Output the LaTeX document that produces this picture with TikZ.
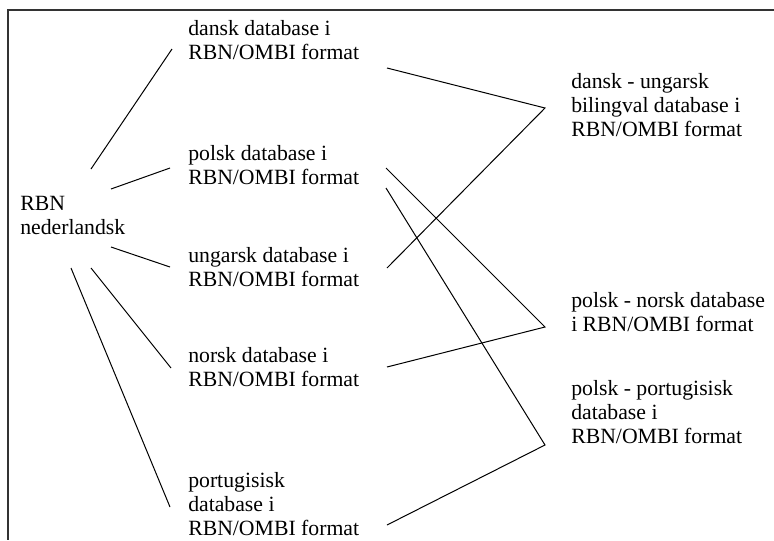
\documentclass[tikz,border=0pt]{standalone}
\usepackage{fontspec}
\setmainfont{Liberation Serif}
\begin{document}
\begin{tikzpicture}[x=0.75pt,y=-0.75pt,
  lbl/.style={anchor=base west,inner sep=0pt,align=left,font=\fontsize{16.3}{18}\selectfont},
  conn/.style={line width=0.75pt,black},
  frameline/.style={line width=1.1pt,black!80}]
\useasboundingbox (0,0) rectangle (774,540);
% frame (top and left edges)
\coordinate (fTR) at (774,10);
\coordinate (fTL) at (8,10);
\coordinate (fBL) at (8,540);
\draw[frameline] (fTR) -- (fTL) -- (fBL);
% texts (anchored at the baseline of their last line)
\node[lbl] (nl) at (20,234) {RBN\\nederlandsk};
\node[lbl] (da) at (188,59) {dansk database i\\RBN/OMBI format};
\node[lbl] (pl) at (188,184) {polsk database i\\RBN/OMBI format};
\node[lbl] (hu) at (188,286) {ungarsk database i\\RBN/OMBI format};
\node[lbl] (no) at (188,386) {norsk database i\\RBN/OMBI format};
\node[lbl] (pt) at (188,535) {portugisisk\\database i\\RBN/OMBI format};
\node[lbl] (dahu) at (571,136) {dansk - ungarsk\\bilingval database i\\RBN/OMBI format};
\node[lbl] (plno) at (571,331) {polsk - norsk database\\i RBN/OMBI format};
\node[lbl] (plpt) at (571,443) {polsk - portugisisk\\database i\\RBN/OMBI format};
% connector end points
\coordinate (nlA) at (91,169);  \coordinate (daL) at (172,49);
\coordinate (nlB) at (111,189); \coordinate (plL) at (170,168);
\coordinate (nlC) at (111,247); \coordinate (huL) at (170,267);
\coordinate (nlD) at (91,268);  \coordinate (noL) at (171,368);
\coordinate (nlE) at (71,268);  \coordinate (ptL) at (170,507);
\coordinate (daR) at (387,68);
\coordinate (huR) at (387,268);
\coordinate (plR1) at (386,168);
\coordinate (plR2) at (386,188);
\coordinate (noR) at (387,367);
\coordinate (ptR) at (387,525);
\coordinate (dahuV) at (545,108);
\coordinate (plnoV) at (545,327);
\coordinate (plptV) at (545,445);
% connectors
\draw[conn] (nlA) -- (daL);
\draw[conn] (nlB) -- (plL);
\draw[conn] (nlC) -- (huL);
\draw[conn] (nlD) -- (noL);
\draw[conn] (nlE) -- (ptL);
\draw[conn] (daR) -- (dahuV) -- (huR);
\draw[conn] (plR1) -- (plnoV) -- (noR);
\draw[conn] (plR2) -- (plptV) -- (ptR);
\end{tikzpicture}
\end{document}
